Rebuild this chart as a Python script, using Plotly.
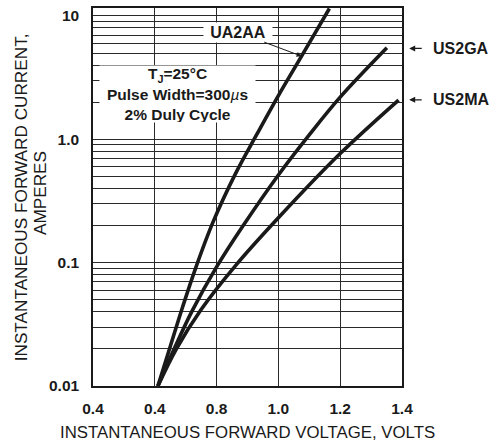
import numpy as np
import plotly.graph_objects as go

# ---- data ----
ua2aa_v = [0.610, 0.650, 0.690, 0.733, 0.788, 0.862, 0.930, 1.000, 1.075, 1.165]
ua2aa_i = [0.010, 0.0209, 0.0437, 0.0917, 0.212, 0.532, 1.094, 2.26, 4.72, 11.5]

us2ga_v = [0.610, 0.665, 0.720, 0.800, 0.885, 1.000, 1.103, 1.200, 1.351]
us2ga_i = [0.010, 0.0206, 0.0403, 0.0923, 0.198, 0.514, 1.112, 2.198, 5.52]

us2ma_v = [0.610, 0.670, 0.750, 0.860, 1.000, 1.200, 1.389]
us2ma_i = [0.010, 0.0200, 0.0417, 0.0938, 0.231, 0.766, 2.08]

x_tickvals = [0.4, 0.6, 0.8, 1.0, 1.2, 1.4]
x_ticktext = ["0.4", "0.4", "0.8", "1.0", "1.2", "1.4"]

decades = [0.01, 0.1, 1.0, 10.0]
decade_labels = ["0.01", "0.1", "1.0", "10"]

# gridline values 1..9 per decade
y_tickvals = []
y_ticktext = []
for d, lab in zip(decades, decade_labels):
    for m in range(1, 10):
        v = d * m
        if v > 11.5:
            break
        y_tickvals.append(v)
        y_ticktext.append(lab if m == 1 else " ")

FONT = "Liberation Sans, Arial, Helvetica, sans-serif"
INK = "#1a1a1a"

fig = go.Figure()
for v, i in [(ua2aa_v, ua2aa_i), (us2ga_v, us2ga_i), (us2ma_v, us2ma_i)]:
    fig.add_trace(go.Scatter(
        x=v, y=i, mode="lines",
        line=dict(color="#1a1a1a", width=3.6, shape="spline", smoothing=1.0),
        hoverinfo="skip",
    ))

fig.update_layout(
    width=497, height=448,
    margin=dict(l=93, r=95, t=6, b=62),
    plot_bgcolor="white", paper_bgcolor="white",
    showlegend=False,
)

fig.update_xaxes(
    range=[0.4, 1.4],
    tickmode="array", tickvals=x_tickvals, ticktext=x_ticktext,
    showgrid=True, gridcolor="#2a2a2a", gridwidth=1,
    showline=True, mirror=True, linecolor="#1a1a1a", linewidth=1.5,
    ticks="", zeroline=False,
    tickfont=dict(family=FONT, size=15.5, color=INK, weight="bold"),
    ticklabelstandoff=8,
)
fig.update_yaxes(
    type="log", range=[-2, 1.0645],
    tickmode="array", tickvals=y_tickvals, ticktext=y_ticktext,
    showgrid=True, gridcolor="#2a2a2a", gridwidth=1,
    showline=True, mirror=True, linecolor="#1a1a1a", linewidth=1.5,
    ticks="", zeroline=False,
    tickfont=dict(family=FONT, size=15.5, color=INK, weight="bold"),
    ticklabelstandoff=9,
)

# condition box (white background hides gridlines)
fig.add_annotation(
    xref="paper", yref="paper", x=0.275, y=0.772,
    xanchor="center", yanchor="middle",
    text="<b>T<sub>J</sub>=25°C</b><br><b>Pulse Width=300</b><i>µ</i><b>s</b><br><b>2% Duly Cycle</b>",
    showarrow=False, bgcolor="white", borderpad=0,
    width=155, height=56, align="center",
    font=dict(family=FONT, size=15.5, color=INK),
)

# UA2AA label with arrow to the curve
fig.add_annotation(
    x=ua2aa_v[8], y=float(np.log10(ua2aa_i[8])), xref="x", yref="y",
    text="<b>UA2AA</b>", showarrow=True,
    ax=-64, ay=-24, axref="pixel", ayref="pixel",
    arrowhead=2, arrowsize=1, arrowwidth=1, arrowcolor=INK,
    bgcolor="white", borderpad=1, width=66,
    font=dict(family=FONT, size=16, color=INK),
)

# right-side labels
for label, ypaper in [("US2GA", 0.893), ("US2MA", 0.757)]:
    fig.add_annotation(
        xref="paper", yref="paper", x=1.0233, y=ypaper,
        text="<b>%s</b>" % label, showarrow=True,
        ax=52, ay=0, arrowhead=2, arrowsize=1, arrowwidth=1.2,
        arrowcolor=INK, startstandoff=10,
        font=dict(family=FONT, size=16, color=INK),
    )

# axis titles
fig.add_annotation(
    xref="paper", yref="paper", x=0.5, y=-0.124,
    xanchor="center", yanchor="middle", showarrow=False,
    text="INSTANTANEOUS FORWARD VOLTAGE, VOLTS",
    font=dict(family=FONT, size=16.8, color=INK),
)
fig.add_annotation(
    xref="paper", yref="paper", x=-0.232, y=0.5,
    xanchor="center", yanchor="middle", showarrow=False, textangle=-90,
    text="INSTANTANEOUS FORWARD CURRENT,",
    font=dict(family=FONT, size=17.2, color=INK),
)
fig.add_annotation(
    xref="paper", yref="paper", x=-0.172, y=0.51,
    xanchor="center", yanchor="middle", showarrow=False, textangle=-90,
    text="AMPERES",
    font=dict(family=FONT, size=17.2, color=INK),
)

fig.write_html("out.html", config={"displayModeBar": False},
               post_script="document.body.style.margin='0';")
